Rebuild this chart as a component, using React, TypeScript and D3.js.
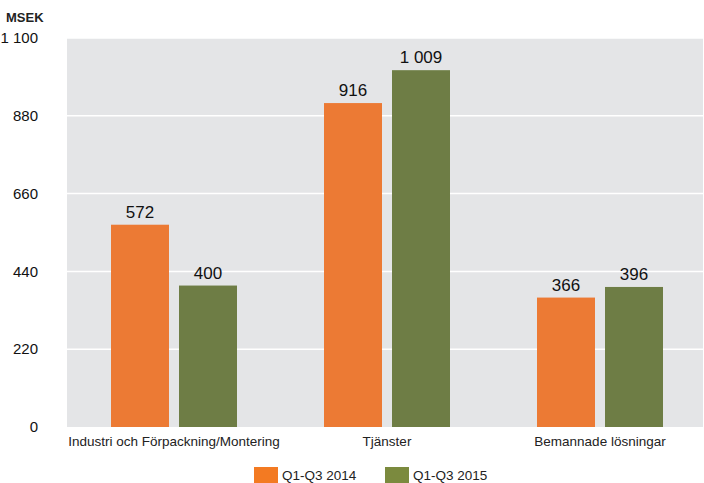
import * as d3 from 'd3';

// chart data
const categories = ['Industri och Förpackning/Montering', 'Tjänster', 'Bemannade lösningar'];
const series = ['Q1-Q3 2014', 'Q1-Q3 2015'];
const values2014 = [572, 916, 366];
const values2015 = [400, 1009, 396];
const yTicks = [0, 220, 440, 660, 880, 1100];

const barColors = ['#EC7A34', '#6E7D45'];
const legendColors = ['#F37A22', '#7B8A3E'];

const fmt = (v: number) => d3.format(',')(v).replace(/,/g, ' ');

export default function App() {
  const width = 704;
  const height = 483;
  const plot = { left: 67, right: 703, top: 38, bottom: 427 };

  // category bands are a bit wider than the visible plot, as in the original
  const x = d3.scaleBand<string>().domain(categories).range([plot.left + 0.5, plot.left + 639.5]);
  const inner = d3.scaleBand<string>().domain(series).range([0, 126]).paddingInner(10 / 68);
  const y = d3.scaleLinear().domain([0, 1100]).range([plot.bottom, plot.top]);

  const rows = categories.map((c, i) => ({ cat: c, vals: [values2014[i], values2015[i]] }));
  const font = 'Liberation Sans, Arial, sans-serif';

  return (
    <svg
      width={width}
      height={height}
      style={{ position: 'absolute', left: 0, top: 0 }}
      fontFamily={font}
    >
      <rect x={plot.left} y={plot.top} width={plot.right - plot.left} height={plot.bottom - plot.top} fill='#E4E5E7' />
      {yTicks.map((t) => (
        <g key={t}>
          {t > 0 && (
            <line x1={plot.left} x2={plot.right} y1={y(t)} y2={y(t)} stroke='#fff' strokeWidth={1.5} />
          )}
          <text x={38} y={y(t)} dy='0.35em' textAnchor='end' fontSize={15} fill='#111'>
            {fmt(t)}
          </text>
        </g>
      ))}
      <text x={6} y={22} fontSize={13} fontWeight='bold' fill='#222'>MSEK</text>

      {rows.map((r) => {
        const gx = (x(r.cat) as number) + (x.bandwidth() - 126) / 2;
        return (
          <g key={r.cat} transform={`translate(${gx},0)`}>
            {r.vals.map((v, j) => {
              const bx = inner(series[j]) as number;
              return (
                <g key={j}>
                  <rect x={bx} y={y(v)} width={inner.bandwidth()} height={plot.bottom - y(v)} fill={barColors[j]} />
                  <text x={bx + inner.bandwidth() / 2} y={y(v) - 7} textAnchor='middle' fontSize={17} fill='#111'>
                    {fmt(v)}
                  </text>
                </g>
              );
            })}
            <text x={63} y={446} textAnchor='middle' fontSize={13.5} fill='#222'>{r.cat}</text>
          </g>
        );
      })}

      {/* legend */}
      {series.map((s, i) => {
        const lx = 254 + i * 131;
        return (
          <g key={s}>
            <rect x={lx} y={467} width={24} height={16} fill={legendColors[i]} />
            <text x={lx + 28} y={480} fontSize={13.5} fill='#222'>{s}</text>
          </g>
        );
      })}
    </svg>
  );
}
